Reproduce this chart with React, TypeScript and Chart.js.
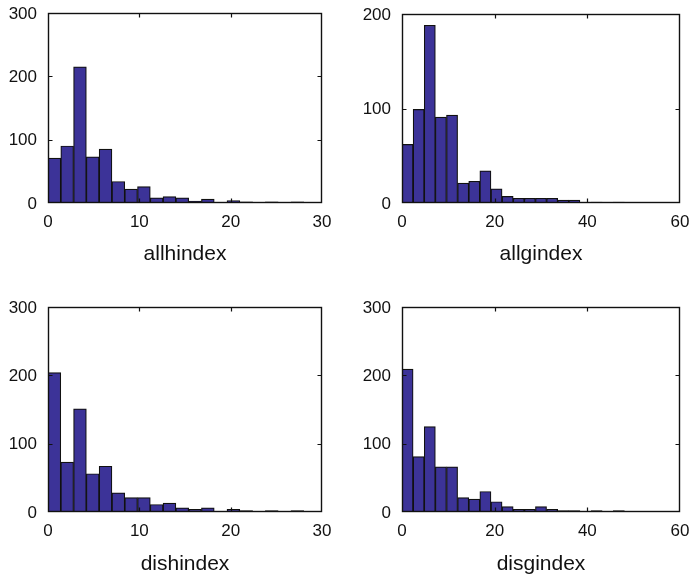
import React, { useEffect, useRef } from 'react';
import { Chart, registerables } from 'chart.js';

Chart.register(...registerables);

// Bin centres (20 bins of width 1.4 over 0..28 and width 2.4 over 0..48)
const hBinCenters = [0.7, 2.1, 3.5, 4.9, 6.3, 7.7, 9.1, 10.5, 11.9, 13.3, 14.7, 16.1, 17.5, 18.9, 20.3, 21.7, 23.1, 24.5, 25.9, 27.3];
const gBinCenters = [1.2, 3.6, 6.0, 8.4, 10.8, 13.2, 15.6, 18.0, 20.4, 22.8, 25.2, 27.6, 30.0, 32.4, 34.8, 37.2, 39.6, 42.0, 44.4, 46.8];

// Counts per bin
const allhindexCounts = [71, 90, 215, 73, 85, 34, 22, 26, 8, 10, 8, 3, 6, 0, 4, 2, 0, 2, 0, 2];
const allgindexCounts = [62, 99, 188, 91, 93, 21, 23, 34, 15, 7, 5, 5, 5, 5, 3, 3, 0, 1, 0, 1];
const dishindexCounts = [204, 73, 151, 56, 67, 28, 21, 21, 11, 13, 6, 4, 6, 0, 4, 2, 0, 2, 0, 2];
const disgindexCounts = [209, 81, 125, 66, 66, 21, 19, 30, 15, 8, 4, 4, 8, 4, 2, 2, 0, 2, 0, 2];

// Axis labels
const titles = ['allhindex', 'allgindex', 'dishindex', 'disgindex'];
const xMaxes = [30, 60, 30, 60];
const xSteps = [10, 20, 10, 20];
const yMaxes = [300, 200, 300, 300];

const BAR_COLOR = '#3c3398';
const FONT = "'Liberation Sans', Arial, Helvetica, sans-serif";

type Panel = {
  left: number; top: number; w: number; h: number;
  aL: number; aT: number; aR: number; aB: number;
  titlePad: number;
};

const panels: Panel[] = [
  { left: 0, top: 0, w: 345, h: 290, aL: 48, aT: 13, aR: 322, aB: 203, titlePad: 23 },
  { left: 345, top: 0, w: 344, h: 290, aL: 57, aT: 14, aR: 335, aB: 203, titlePad: 23 },
  { left: 0, top: 290, w: 345, h: 289, aL: 48, aT: 17, aR: 322, aB: 222, titlePad: 2 },
  { left: 345, top: 290, w: 344, h: 289, aL: 57, aT: 17, aR: 335, aB: 222, titlePad: 2 },
];

const boxPlugin = {
  id: 'matlabBox',
  afterDraw(chart: any) {
    const { ctx, chartArea } = chart;
    const xs = chart.scales.x;
    const ys = chart.scales.y;
    const l = Math.round(chartArea.left) + 0.5;
    const r = Math.round(chartArea.right) - 0.5;
    const t = Math.round(chartArea.top) + 0.5;
    const b = Math.round(chartArea.bottom) - 0.5;
    ctx.save();
    ctx.strokeStyle = '#111';
    ctx.lineWidth = 1.4;
    ctx.strokeRect(l, t, r - l, b - t);
    const len = 4;
    ctx.lineWidth = 1.2;
    ctx.beginPath();
    xs.ticks.forEach((tk: any) => {
      const px = Math.round(xs.getPixelForValue(tk.value)) + 0.5;
      if (px <= l + 1 || px >= r - 1) return;
      ctx.moveTo(px, b); ctx.lineTo(px, b - len);
      ctx.moveTo(px, t); ctx.lineTo(px, t + len);
    });
    ys.ticks.forEach((tk: any) => {
      const py = Math.round(ys.getPixelForValue(tk.value)) + 0.5;
      if (py <= t + 1 || py >= b - 1) return;
      ctx.moveTo(l, py); ctx.lineTo(l + len, py);
      ctx.moveTo(r, py); ctx.lineTo(r - len, py);
    });
    ctx.stroke();
    ctx.restore();
  },
};

function Histogram({ idx, centers, counts }: { idx: number; centers: number[]; counts: number[] }) {
  const ref = useRef<HTMLCanvasElement | null>(null);
  const p = panels[idx];
  useEffect(() => {
    if (!ref.current) return;
    const chart = new Chart(ref.current, {
      type: 'bar',
      data: {
        datasets: [
          {
            data: centers.map((c, i) => ({ x: c, y: counts[i] })),
            backgroundColor: BAR_COLOR,
            borderColor: '#111',
            borderWidth: 1.2,
            barPercentage: 1,
            categoryPercentage: 1,
          },
        ],
      },
      options: {
        responsive: false,
        animation: false,
        events: [],
        layout: { padding: { left: 0, top: p.aT, right: p.w - p.aR, bottom: 0 } },
        plugins: { legend: { display: false }, tooltip: { enabled: false } },
        scales: {
          x: {
            type: 'linear',
            offset: false,
            min: 0,
            max: xMaxes[idx],
            grid: { display: false, drawTicks: false },
            border: { display: false },
            ticks: { stepSize: xSteps[idx], padding: 9, color: '#111', font: { family: FONT, size: 17 } },
            title: {
              display: true,
              text: titles[idx],
              color: '#111',
              font: { family: FONT, size: 21 },
              padding: { top: 0, bottom: p.titlePad },
            },
            afterFit(scale: any) {
              scale.height = p.h - p.aB;
              scale.paddingLeft = 0;
              scale.paddingRight = 0;
              scale.paddingTop = 0;
              scale.paddingBottom = 0;
            },
          },
          y: {
            min: 0,
            max: yMaxes[idx],
            grid: { display: false, drawTicks: false },
            border: { display: false },
            ticks: { stepSize: 100, padding: 11, labelOffset: 1, color: '#111', font: { family: FONT, size: 17 } },
            afterFit(scale: any) {
              scale.width = p.aL;
              scale.paddingLeft = 0;
              scale.paddingRight = 0;
              scale.paddingTop = 0;
              scale.paddingBottom = 0;
            },
          },
        },
      },
      plugins: [boxPlugin],
    } as any);
    return () => chart.destroy();
  }, []);
  return (
    <canvas
      ref={ref}
      width={p.w}
      height={p.h}
      style={{ position: 'absolute', left: p.left, top: p.top, width: p.w, height: p.h }}
    />
  );
}

export default function App() {
  return (
    <div style={{ position: 'absolute', left: 0, top: 0, width: 689, height: 579, background: '#fff' }}>
      <Histogram idx={0} centers={hBinCenters} counts={allhindexCounts} />
      <Histogram idx={1} centers={gBinCenters} counts={allgindexCounts} />
      <Histogram idx={2} centers={hBinCenters} counts={dishindexCounts} />
      <Histogram idx={3} centers={gBinCenters} counts={disgindexCounts} />
    </div>
  );
}
